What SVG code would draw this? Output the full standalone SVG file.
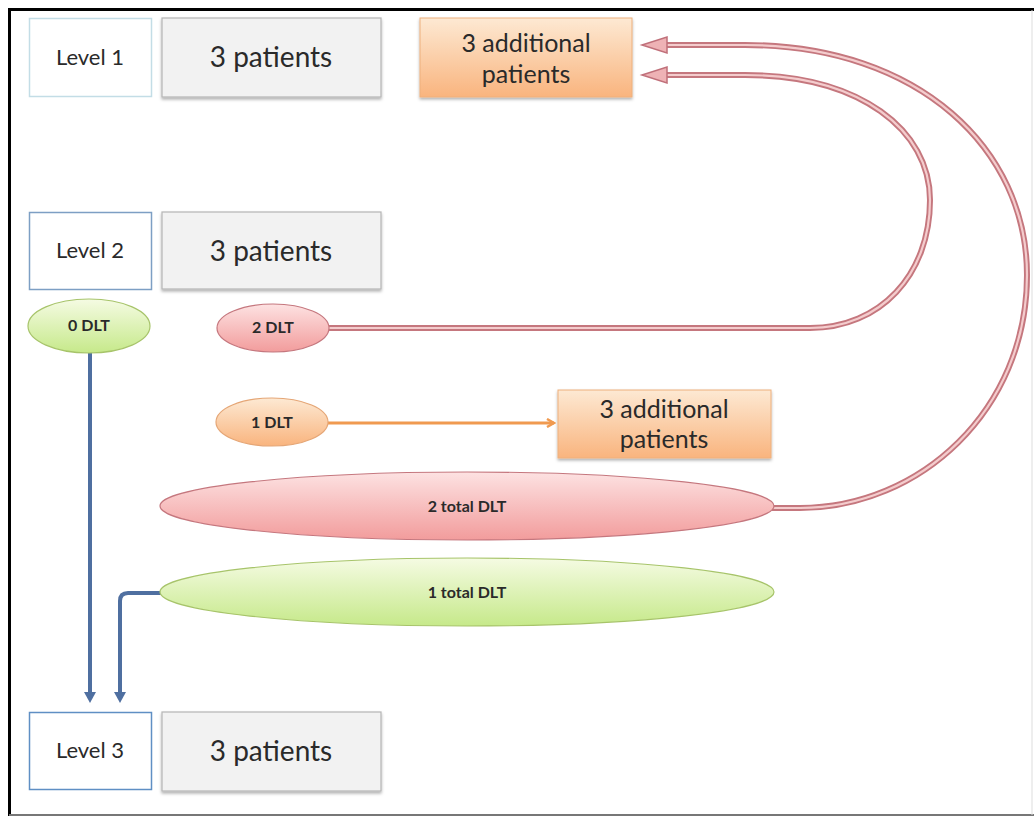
<svg xmlns="http://www.w3.org/2000/svg" width="1034" height="817" viewBox="0 0 1034 817">
<defs>
<linearGradient id="gOrange" x1="0" y1="0" x2="0" y2="1"><stop offset="0" stop-color="#fde9d3"/><stop offset="1" stop-color="#f9b47e"/></linearGradient>
<linearGradient id="gGreen" x1="0" y1="0" x2="0" y2="1"><stop offset="0" stop-color="#f5fbe3"/><stop offset="1" stop-color="#c6e98a"/></linearGradient>
<linearGradient id="gRed" x1="0" y1="0" x2="0" y2="1"><stop offset="0" stop-color="#fde2e2"/><stop offset="1" stop-color="#f29c9c"/></linearGradient>
<filter id="sh" x="-10%" y="-10%" width="120%" height="130%"><feDropShadow dx="0" dy="2" stdDeviation="1.5" flood-color="#000" flood-opacity="0.3"/></filter>
<marker id="oArrow" markerWidth="10" markerHeight="10" refX="8" refY="5" orient="auto" markerUnits="userSpaceOnUse"><path d="M1,1 L8,5 L1,9" fill="none" stroke="#f09a50" stroke-width="2.5"/></marker>
</defs>
<style>
.lvl{fill:#fff;stroke-width:1.5}
.pat{fill:#f2f2f2;stroke:#b5b5b5;stroke-width:1.2}
.add{fill:url(#gOrange);stroke:#eeb07c;stroke-width:1}
.t{font-family:Lato,"Liberation Sans",sans-serif;fill:#2a2a2a;text-anchor:middle}
.tb{font-family:Lato,"Liberation Sans",sans-serif;fill:#2a2a2a;text-anchor:middle;font-weight:bold;font-size:16px}
.pinkO{fill:none;stroke:#c5777e;stroke-width:6}
.pinkI{fill:none;stroke:#f4cccd;stroke-width:2.2}
.ahead{fill:#eeb2b5;stroke:#c0707a;stroke-width:1.5}
.blue{fill:none;stroke:#4f6fa0;stroke-width:4}
</style>
<rect width="1034" height="817" fill="#fff"/>
<g id="frame">
<line x1="8" y1="9.5" x2="1034" y2="9.5" stroke="#000" stroke-width="3"/>
<line x1="9.5" y1="8" x2="9.5" y2="816" stroke="#000" stroke-width="3"/>
<line x1="9" y1="815" x2="1034" y2="815" stroke="#777" stroke-width="2"/>
<line x1="1032" y1="10" x2="1032" y2="815" stroke="#ddd" stroke-width="1"/>
</g>
<g id="connectors">
<path class="pinkO" d="M664,45 H745 C920,45 1027,150 1027,275 C1027,410 920,508 800,508 H772"/>
<path class="pinkI" d="M664,45 H745 C920,45 1027,150 1027,275 C1027,410 920,508 800,508 H772"/>
<path class="pinkO" d="M664,75 H745 C860,75 930,130 930,200 C930,275 880,328 810,328 H328"/>
<path class="pinkI" d="M664,75 H745 C860,75 930,130 930,200 C930,275 880,328 810,328 H328"/>
<polygon class="ahead" points="642,45 667,37 667,53"/>
<polygon class="ahead" points="642,75 667,67 667,83"/>
<line x1="328" y1="423" x2="554" y2="423" stroke="#f09a50" stroke-width="3" marker-end="url(#oArrow)"/>
<path class="blue" d="M90,352 V692"/>
<path class="blue" d="M163,593 H128 Q120,593 120,601 V692"/>
<polygon points="84,692 96,692 90,703" fill="#4f6fa0"/>
<polygon points="114,692 126,692 120,703" fill="#4f6fa0"/>
</g>
<g id="level1">
<rect class="lvl" x="29.5" y="18.5" width="122" height="78" stroke="#c3dde6"/>
<text class="t" x="90" y="65" font-size="22">Level 1</text>
</g>
<g id="patients1">
<rect class="pat" x="162" y="18" width="219" height="79" filter="url(#sh)"/>
<text class="t" x="271" y="67" font-size="28">3 patients</text>
</g>
<g id="additional1">
<rect class="add" x="420" y="18" width="212" height="79" filter="url(#sh)"/>
<text class="t" x="526" y="52" font-size="25">3 additional</text>
<text class="t" x="526" y="83" font-size="25">patients</text>
</g>
<g id="level2">
<rect class="lvl" x="29.5" y="212.5" width="122" height="77" stroke="#7d9fc4"/>
<text class="t" x="90" y="258" font-size="22">Level 2</text>
</g>
<g id="patients2">
<rect class="pat" x="162" y="212" width="219" height="77" filter="url(#sh)"/>
<text class="t" x="271" y="261" font-size="28">3 patients</text>
</g>
<g id="dlt0">
<ellipse cx="89" cy="326" rx="61" ry="27" fill="url(#gGreen)" stroke="#a7c46a" stroke-width="1.2"/>
<text class="tb" x="89" y="331">0 DLT</text>
</g>
<g id="dlt2">
<ellipse cx="273" cy="328" rx="56" ry="24" fill="url(#gRed)" stroke="#c5777e" stroke-width="1.2"/>
<text class="tb" x="273" y="333">2 DLT</text>
</g>
<g id="dlt1">
<ellipse cx="272" cy="422" rx="56" ry="24" fill="url(#gOrange)" stroke="#e5a676" stroke-width="1.2"/>
<text class="tb" x="272" y="428">1 DLT</text>
</g>
<g id="additional2">
<rect class="add" x="558" y="390" width="213" height="68" filter="url(#sh)"/>
<text class="t" x="664" y="418" font-size="25">3 additional</text>
<text class="t" x="664" y="448" font-size="25">patients</text>
</g>
<g id="total2">
<ellipse cx="467" cy="506" rx="307" ry="34" fill="url(#gRed)" stroke="#c5777e" stroke-width="1.2"/>
<text class="tb" x="467" y="512">2 total DLT</text>
</g>
<g id="total1">
<ellipse cx="467" cy="592" rx="307" ry="34" fill="url(#gGreen)" stroke="#a7c46a" stroke-width="1.2"/>
<text class="tb" x="467" y="598">1 total DLT</text>
</g>
<g id="level3">
<rect class="lvl" x="29.5" y="712.5" width="122" height="77" stroke="#5f8fc4"/>
<text class="t" x="90" y="758" font-size="22">Level 3</text>
</g>
<g id="patients3">
<rect class="pat" x="162" y="712" width="219" height="79" filter="url(#sh)"/>
<text class="t" x="271" y="761" font-size="28">3 patients</text>
</g>
</svg>
